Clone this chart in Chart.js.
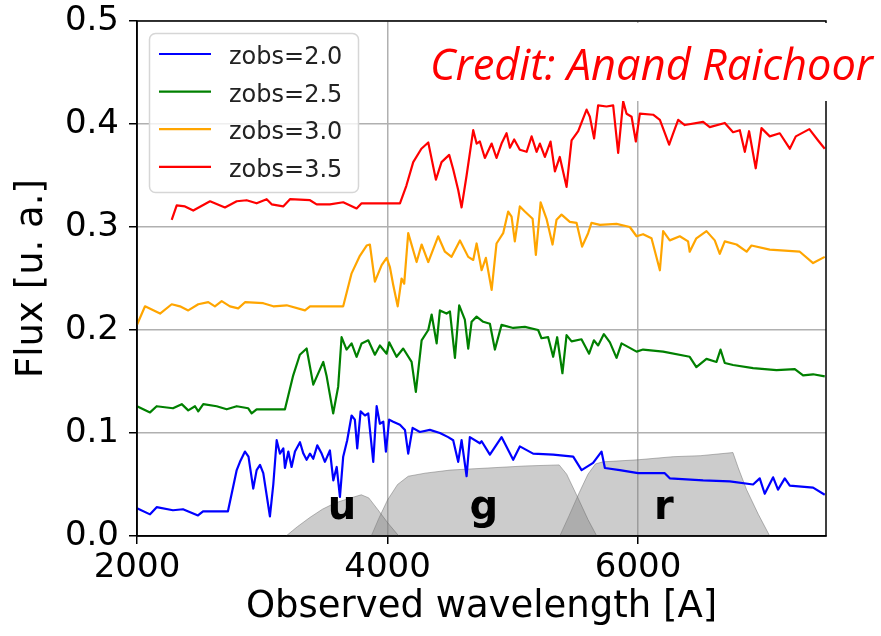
<!DOCTYPE html>
<html>
<head>
<meta charset="utf-8">
<script src="https://cdn.jsdelivr.net/npm/chart.js@4"></script>
<style>
  body { margin: 0; background: #fff; }
  canvas { display: block; }
</style>
</head>
<body>
<canvas id="myChart" width="881" height="636"></canvas>
<script>
// Galaxy template spectrum seen at four redshifts (wavelength in A, flux in arbitrary units)
const wave20 = [2000,2104,2157,2287,2367,2487,2527,2726,2796,2822,2862,2890,2928,2955,2982,3008,3061,3088,3115,3141,3168,3181,3208,3234,3261,3301,3328,3354,3381,3407,3439,3474,3500,3540,3567,3594,3620,3646,3678,3713,3739,3758,3785,3820,3846,3886,3913,3939,3966,3987,4013,4045,4099,4139,4165,4200,4258,4338,4418,4484,4524,4564,4591,4631,4657,4737,4751,4817,4910,5003,5056,5162,5322,5482,5549,5641,5708,5735,5854,6000,6213,6253,6519,6732,6918,6971,7011,7078,7117,7171,7211,7397,7490];
const flux20 = [0.027,0.021,0.028,0.025,0.026,0.020,0.024,0.024,0.064,0.072,0.082,0.077,0.046,0.064,0.069,0.061,0.019,0.050,0.093,0.080,0.085,0.066,0.082,0.067,0.082,0.091,0.080,0.074,0.080,0.075,0.088,0.080,0.072,0.083,0.054,0.067,0.038,0.077,0.093,0.117,0.113,0.085,0.121,0.117,0.119,0.072,0.126,0.109,0.111,0.082,0.113,0.111,0.108,0.103,0.080,0.105,0.101,0.103,0.100,0.096,0.093,0.072,0.093,0.058,0.096,0.090,0.092,0.079,0.096,0.074,0.087,0.080,0.079,0.077,0.064,0.071,0.082,0.066,0.064,0.061,0.061,0.056,0.054,0.053,0.050,0.056,0.041,0.057,0.045,0.056,0.049,0.047,0.040];

const wave25 = [2000,2104,2157,2287,2357,2409,2463,2489,2529,2636,2716,2796,2888,2915,2955,3181,3247,3300,3354,3407,3487,3514,3566,3606,3633,3673,3713,3753,3793,3846,3899,3939,3993,4013,4072,4125,4192,4226,4272,4325,4352,4392,4418,4471,4498,4538,4572,4617,4644,4671,4711,4764,4817,4857,4910,5003,5096,5202,5229,5282,5322,5354,5396,5429,5469,5548,5609,5647,5681,5727,5775,5828,5868,5988,6040,6200,6412,6465,6546,6626,6658,6692,6758,6918,7105,7251,7317,7397,7490];
const flux25 = [0.126,0.120,0.126,0.124,0.128,0.122,0.126,0.121,0.128,0.126,0.123,0.126,0.124,0.119,0.123,0.123,0.156,0.176,0.182,0.147,0.169,0.155,0.119,0.145,0.193,0.181,0.187,0.174,0.187,0.190,0.176,0.185,0.177,0.188,0.174,0.182,0.169,0.140,0.190,0.200,0.215,0.187,0.219,0.216,0.218,0.173,0.224,0.210,0.182,0.208,0.213,0.208,0.206,0.181,0.205,0.202,0.203,0.200,0.192,0.193,0.174,0.193,0.158,0.195,0.189,0.191,0.177,0.190,0.185,0.196,0.188,0.173,0.187,0.179,0.181,0.179,0.174,0.164,0.172,0.169,0.181,0.168,0.166,0.163,0.161,0.162,0.156,0.157,0.155];

const wave30 = [2000,2064,2184,2277,2343,2409,2489,2569,2622,2676,2742,2808,2862,3008,3088,3195,3341,3381,3646,3713,3779,3833,3859,3899,3953,3993,4019,4045,4081,4112,4133,4165,4232,4272,4325,4404,4458,4511,4578,4644,4684,4711,4751,4785,4831,4870,4923,4963,4990,5016,5056,5096,5158,5184,5222,5269,5317,5349,5389,5455,5509,5553,5601,5628,5695,5828,5934,5988,6040,6107,6174,6200,6253,6333,6399,6412,6465,6546,6612,6652,6692,6786,6866,6905,7051,7291,7397,7490];
const flux30 = [0.205,0.223,0.216,0.225,0.223,0.219,0.225,0.227,0.223,0.228,0.223,0.221,0.227,0.226,0.223,0.224,0.219,0.223,0.223,0.255,0.272,0.282,0.283,0.247,0.263,0.270,0.261,0.244,0.223,0.250,0.245,0.294,0.266,0.283,0.266,0.291,0.276,0.271,0.287,0.271,0.268,0.284,0.258,0.270,0.239,0.284,0.294,0.315,0.310,0.286,0.320,0.315,0.308,0.273,0.324,0.308,0.283,0.307,0.312,0.305,0.304,0.281,0.294,0.304,0.302,0.303,0.300,0.291,0.293,0.289,0.258,0.296,0.287,0.291,0.286,0.276,0.289,0.296,0.287,0.274,0.286,0.283,0.276,0.282,0.278,0.276,0.265,0.271];

const wave35 = [2277,2317,2383,2449,2583,2702,2796,2875,2955,3035,3075,3167,3221,3381,3434,3540,3646,3753,3793,4099,4150,4205,4270,4325,4386,4431,4492,4524,4564,4591,4631,4684,4711,4737,4777,4831,4870,4910,4950,4977,5011,5056,5110,5150,5190,5216,5256,5301,5336,5375,5429,5469,5522,5589,5615,5649,5681,5748,5801,5841,5881,5908,5948,5982,6014,6120,6174,6248,6280,6320,6373,6519,6572,6692,6758,6812,6852,6886,6939,6985,7051,7131,7211,7259,7367,7437,7490];
const flux35 = [0.307,0.321,0.320,0.316,0.325,0.319,0.325,0.326,0.323,0.327,0.322,0.320,0.327,0.326,0.322,0.322,0.324,0.318,0.323,0.323,0.340,0.363,0.376,0.382,0.346,0.363,0.370,0.356,0.336,0.319,0.350,0.394,0.381,0.383,0.367,0.381,0.367,0.381,0.391,0.377,0.385,0.375,0.373,0.388,0.373,0.381,0.368,0.383,0.354,0.368,0.339,0.384,0.393,0.414,0.407,0.386,0.418,0.417,0.418,0.372,0.422,0.410,0.407,0.383,0.410,0.409,0.404,0.380,0.391,0.404,0.399,0.402,0.397,0.401,0.392,0.394,0.373,0.393,0.357,0.396,0.388,0.391,0.376,0.388,0.395,0.384,0.376];

// u, g, r filter transmission (scaled)
const uWave = [3190,3280,3380,3480,3580,3680,3790,3850,3920,4000,4090];
const uResp = [0,0.009,0.018,0.026,0.032,0.036,0.040,0.037,0.026,0.013,0];
const gWave = [3870,3930,4000,4080,4165,4300,4500,4800,5100,5370,5430,5520,5600,5670];
const gResp = [0,0.017,0.035,0.050,0.058,0.061,0.064,0.066,0.068,0.069,0.060,0.037,0.016,0];
const rWave = [5375,5450,5530,5600,5660,5720,6000,6280,6500,6757,6800,6866,6960,7051];
const rResp = [0,0.020,0.042,0.060,0.070,0.072,0.074,0.077,0.078,0.081,0.066,0.045,0.021,0];

const bandNames = ['u', 'g', 'r'];
const bandNameWave = [3636, 4769, 6205];
const bandNameFlux = 0.0165;

const xTicks = [2000, 4000, 6000];
const seriesLabels = ['zobs=2.0', 'zobs=2.5', 'zobs=3.0', 'zobs=3.5'];
const seriesColors = ['#0000ff', '#008000', '#ffa500', '#ff0000'];

function toPoints(xs, ys) {
  return xs.map((x, i) => ({ x: x, y: ys[i] }));
}

const spectra = [[wave20, flux20], [wave25, flux25], [wave30, flux30], [wave35, flux35]];
const bands = [[uWave, uResp], [gWave, gResp], [rWave, rResp]];

const datasets = spectra.map((s, i) => ({
  label: seriesLabels[i],
  data: toPoints(s[0], s[1]),
  borderColor: seriesColors[i],
  borderWidth: 2.2,
  borderJoinStyle: 'round',
  fill: false
})).concat(bands.map((b, i) => ({
  label: bandNames[i],
  data: toPoints(b[0], b[1]),
  borderColor: 'rgba(100,100,100,0.45)',
  borderWidth: 1,
  backgroundColor: 'rgba(128,128,128,0.4)',
  fill: 'origin'
})));

const FONT = 'DejaVu Sans';

// frame, band names, legend box and credit line
const decorations = {
  id: 'decorations',
  afterDatasetsDraw(chart) {
    const { ctx, chartArea: a, scales: { x, y } } = chart;
    ctx.save();
    ctx.font = 'bold 40px "' + FONT + '"';
    ctx.fillStyle = '#000';
    ctx.textAlign = 'center';
    ctx.textBaseline = 'alphabetic';
    bandNames.forEach((b, i) => {
      ctx.fillText(b, x.getPixelForValue(bandNameWave[i]), y.getPixelForValue(bandNameFlux));
    });
    ctx.strokeStyle = '#000';
    ctx.lineWidth = 1.5;
    ctx.strokeRect(a.left, a.top, a.right - a.left, a.bottom - a.top);
    ctx.restore();
  },
  afterDraw(chart) {
    const ctx = chart.ctx;
    ctx.save();
    // legend
    ctx.beginPath();
    ctx.roundRect(149.5, 33.5, 209, 159, 6);
    ctx.fillStyle = 'rgba(255,255,255,0.8)';
    ctx.fill();
    ctx.strokeStyle = '#d6d6d6';
    ctx.lineWidth = 1.5;
    ctx.stroke();
    ctx.font = '24px "' + FONT + '"';
    ctx.textAlign = 'left';
    ctx.textBaseline = 'alphabetic';
    seriesLabels.forEach((lab, i) => {
      const ly = 54 + i * 37.6;
      ctx.beginPath();
      ctx.moveTo(159, ly);
      ctx.lineTo(211, ly);
      ctx.strokeStyle = seriesColors[i];
      ctx.lineWidth = 2.2;
      ctx.stroke();
      ctx.fillStyle = '#222';
      ctx.fillText(lab, 229, ly + 10);
    });
    // credit on a white label
    ctx.fillStyle = '#fff';
    ctx.fillRect(418, 23, 463, 78);
    const credit = 'Credit: Anand Raichoor';
    ctx.font = 'italic 44px "Open Sans"';
    const w = ctx.measureText(credit).width;
    ctx.fillStyle = '#ff0000';
    ctx.translate(430, 80);
    ctx.scale(443 / w, 1);
    ctx.fillText(credit, 0, 0);
    ctx.restore();
  }
};

const ctx = document.getElementById('myChart').getContext('2d');

const myChart = new Chart(ctx, {
  type: 'line',
  data: { datasets: datasets },
  plugins: [decorations],
  options: {
    responsive: false,
    animation: false,
    devicePixelRatio: 1,
    layout: { padding: { left: 0, right: 55, top: 21, bottom: 0 } },
    elements: { point: { radius: 0 }, line: { tension: 0 } },
    plugins: { legend: { display: false }, tooltip: { enabled: false } },
    scales: {
      x: {
        type: 'linear',
        min: 2000,
        max: 7500,
        afterFit(scale) {
          scale.height = 100;
          scale.paddingLeft = 0;
          scale.paddingRight = 0;
        },
        afterBuildTicks(scale) { scale.ticks = xTicks.map(v => ({ value: v })); },
        ticks: {
          maxRotation: 0,
          padding: 4,
          color: '#000',
          font: { family: FONT, size: 34 },
          callback: v => String(v)
        },
        grid: { color: '#b0b0b0', lineWidth: 1.5, tickColor: '#000', tickLength: 8, tickWidth: 1.5 },
        border: { color: '#000', width: 1.5 },
        title: {
          display: true,
          text: 'Observed wavelength [A]',
          color: '#000',
          font: { family: FONT, size: 37, lineHeight: 1.2 },
          padding: { top: 0, bottom: 6 }
        }
      },
      y: {
        type: 'linear',
        min: 0,
        max: 0.5,
        afterFit(scale) {
          scale.width = 137;
          scale.paddingTop = 0;
          scale.paddingBottom = 0;
        },
        ticks: {
          stepSize: 0.1,
          padding: 10,
          color: '#000',
          font: { family: FONT, size: 34 },
          callback: v => v.toFixed(1)
        },
        grid: { color: '#b0b0b0', lineWidth: 1.5, tickColor: '#000', tickLength: 8, tickWidth: 1.5 },
        border: { color: '#000', width: 1.5 },
        title: {
          display: true,
          text: 'Flux [u. a.]',
          color: '#000',
          font: { family: FONT, size: 37, lineHeight: 1.2 },
          padding: { top: 10, bottom: 0 }
        }
      }
    }
  }
});
</script>
</body>
</html>
